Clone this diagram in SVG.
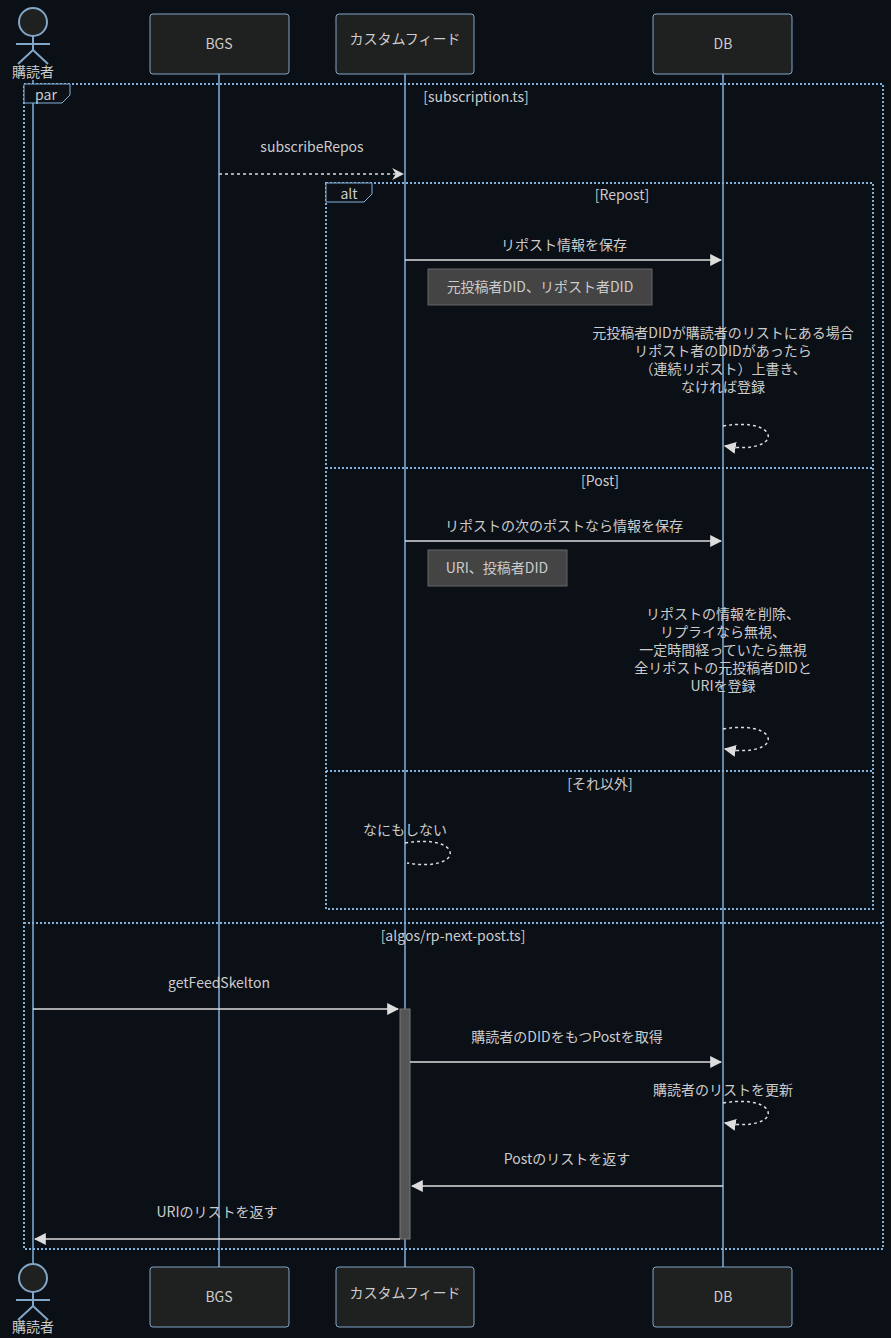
<svg xmlns="http://www.w3.org/2000/svg" width="891" height="1338" viewBox="0 0 891 1338">
<style>
text{font-family:"Noto Sans CJK JP","Noto Sans",sans-serif;fill:#cccccc;font-size:14px;text-anchor:middle}
.actor{fill:#1f2020;stroke:#81a6c8;stroke-width:1}
.life{stroke:#81b1db;stroke-width:1.5}
.msg{stroke:#dddddd;stroke-width:1.5;fill:none}
.dash{stroke-dasharray:3,3}
.frame{fill:none;stroke:#81b1db;stroke-width:2;stroke-dasharray:2,2}
.lbl{fill:#0d1117;stroke:#81b1db;stroke-width:1}
.note{fill:#444;stroke:#666;stroke-width:1}
</style>
<defs>
<marker id="arr" viewBox="0 0 10 10" refX="9" refY="5" markerWidth="12" markerHeight="12" orient="auto" markerUnits="userSpaceOnUse"><path d="M0,0L10,5L0,10z" fill="#dddddd"/></marker>
<marker id="open" viewBox="0 0 10 10" refX="9" refY="5" markerWidth="12" markerHeight="12" orient="auto" markerUnits="userSpaceOnUse"><path d="M0,0L10,5L0,10L3,5z" fill="#dddddd"/></marker>
</defs>
<rect width="891" height="1338" fill="#0b0f16"/>
<g id="lifelines">
<line class="life" x1="33" y1="80" x2="33" y2="1265"/>
<line class="life" x1="219" y1="74" x2="219" y2="1267"/>
<line class="life" x1="405" y1="74" x2="405" y2="1267"/>
<line class="life" x1="723" y1="74" x2="723" y2="1267"/>
</g>
<g id="frames">
<rect class="frame" x="24" y="84" width="859" height="1165"/>
<path class="lbl" d="M24,84H70V95L62,103H24Z"/>
<text x="46" y="100">par</text>
<text x="476" y="102">[subscription.ts]</text>
<rect class="frame" x="326" y="183" width="547" height="726"/>
<path class="lbl" d="M326,183H372V194L364,202H326Z"/>
<text x="349" y="199">alt</text>
<text x="622" y="200">[Repost]</text>
<line class="frame" x1="326" y1="468" x2="873" y2="468"/>
<text x="600" y="486">[Post]</text>
<line class="frame" x1="326" y1="771" x2="873" y2="771"/>
<text x="600" y="789">[それ以外]</text>
<line class="frame" x1="24" y1="923" x2="883" y2="923"/>
<text x="453" y="941">[algos/rp-next-post.ts]</text>
</g>
<g id="activation"><rect x="400" y="1009" width="10" height="230" fill="#555" stroke="#777"/></g>
<g id="connectors">
<line class="msg dash" x1="219" y1="174" x2="403" y2="174" marker-end="url(#open)"/>
<text x="312" y="152">subscribeRepos</text>
<line class="msg" x1="405" y1="260" x2="721" y2="260" marker-end="url(#arr)"/>
<text x="564" y="250">リポスト情報を保存</text>
<path class="msg dash" d="M723,426C783,416 783,456 725,446" marker-end="url(#arr)"/>
<text x="723" y="338">元投稿者DIDが購読者のリストにある場合</text>
<text x="723" y="356">リポスト者のDIDがあったら</text>
<text x="723" y="374">（連続リポスト）上書き、</text>
<text x="723" y="392">なければ登録</text>
<line class="msg" x1="405" y1="541" x2="721" y2="541" marker-end="url(#arr)"/>
<text x="564" y="531">リポストの次のポストなら情報を保存</text>
<path class="msg dash" d="M723,729C783,719 783,759 725,749" marker-end="url(#arr)"/>
<text x="723" y="619">リポストの情報を削除、</text>
<text x="723" y="637">リプライなら無視、</text>
<text x="723" y="655">一定時間経っていたら無視</text>
<text x="723" y="673">全リポストの元投稿者DIDと</text>
<text x="723" y="691">URIを登録</text>
<path class="msg dash" d="M405,843C465,833 465,873 407,863"/>
<text x="405" y="835">なにもしない</text>
<line class="msg" x1="33" y1="1009" x2="398" y2="1009" marker-end="url(#arr)"/>
<text x="219" y="988">getFeedSkelton</text>
<line class="msg" x1="410" y1="1062" x2="721" y2="1062" marker-end="url(#arr)"/>
<text x="567" y="1042">購読者のDIDをもつPostを取得</text>
<path class="msg dash" d="M723,1103C783,1093 783,1133 725,1123" marker-end="url(#arr)"/>
<text x="723" y="1095">購読者のリストを更新</text>
<line class="msg" x1="723" y1="1186" x2="412" y2="1186" marker-end="url(#arr)"/>
<text x="567" y="1164">Postのリストを返す</text>
<line class="msg" x1="400" y1="1239" x2="35" y2="1239" marker-end="url(#arr)"/>
<text x="217" y="1217">URIのリストを返す</text>
</g>
<g id="notes">
<rect class="note" x="428" y="269" width="224" height="36"/>
<text x="540" y="292">元投稿者DID、リポスト者DID</text>
<rect class="note" x="428" y="550" width="139" height="36"/>
<text x="497" y="573">URI、投稿者DID</text>
</g>
<g id="actor-reader">
<circle cx="33" cy="22" r="14" fill="#1f2020" stroke="#81a6c8" stroke-width="2"/>
<path d="M33,36V50M16,44H50M33,50L18,64M33,50L48,64" stroke="#81a6c8" stroke-width="2" fill="none"/>
<text x="33" y="77">購読者</text>
<circle cx="33" cy="1278" r="14" fill="#1f2020" stroke="#81a6c8" stroke-width="2"/>
<path d="M33,1292V1306M16,1300H50M33,1306L18,1320M33,1306L48,1320" stroke="#81a6c8" stroke-width="2" fill="none"/>
<text x="33" y="1332">購読者</text>
</g>
<g id="actor-bgs">
<rect class="actor" x="150" y="14" width="139" height="60" rx="3"/><text x="219" y="49">BGS</text>
<rect class="actor" x="150" y="1267" width="139" height="60" rx="3"/><text x="219" y="1302">BGS</text>
</g>
<g id="actor-feed">
<rect class="actor" x="336" y="14" width="138" height="60" rx="3"/><text x="405" y="44" font-size="16">カスタムフィード</text>
<rect class="actor" x="336" y="1267" width="138" height="60" rx="3"/><text x="405" y="1298" font-size="16">カスタムフィード</text>
</g>
<g id="actor-db">
<rect class="actor" x="653" y="14" width="139" height="60" rx="3"/><text x="723" y="49">DB</text>
<rect class="actor" x="653" y="1267" width="139" height="60" rx="3"/><text x="723" y="1302">DB</text>
</g>
</svg>
